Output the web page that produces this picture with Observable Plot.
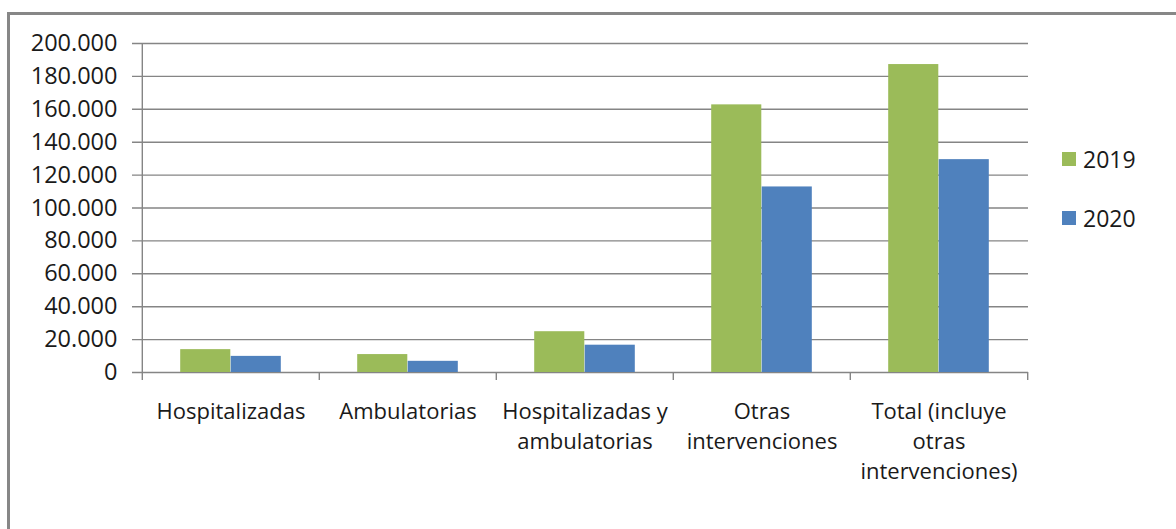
<!DOCTYPE html>
<html><head><meta charset="utf-8">
<script src="https://cdn.jsdelivr.net/npm/d3@7"></script>
<script src="https://cdn.jsdelivr.net/npm/@observablehq/plot@0.6"></script>
<style>
body{margin:0;background:#fff;}
#wrap{position:relative;width:1176px;height:529px;overflow:hidden;background:#fff;font-family:"Open Sans",sans-serif;}
#border{position:absolute;left:7px;top:12px;right:-10px;bottom:-10px;border-left:3px solid #878787;border-top:3px solid #878787;}
#chart{position:absolute;left:0;top:0;}
#legend{position:absolute;left:1062px;top:129px;}
#legend > div{margin:0 !important;font-family:"Open Sans",sans-serif !important;font-size:23px !important;color:#1a1a1a !important;}
#legend > div > div{height:59px;padding:0 !important;}
#legend > div > div > svg{margin-right:7px !important;}
</style></head><body>
<div id="wrap"><div id="border"></div><div id="chart"></div><div id="legend"></div></div>
<script>
const categories = ["Hospitalizadas", "Ambulatorias", "Hospitalizadas y ambulatorias", "Otras intervenciones", "Total (incluye otras intervenciones)"];
const categoryLabels = ["Hospitalizadas", "Ambulatorias", "Hospitalizadas y\nambulatorias", "Otras\nintervenciones", "Total (incluye\notras\nintervenciones)"];
const years = ["2019", "2020"];
const values2019 = [13900, 10900, 24800, 162700, 187200];
const values2020 = [9800, 6800, 16600, 112800, 129400];
const yTicks = [0, 20000, 40000, 60000, 80000, 100000, 120000, 140000, 160000, 180000, 200000];
const colors = ["#9BBB59", "#4F81BD"];

const data = categories.flatMap((c, i) => [
  {category: c, year: years[0], value: values2019[i]},
  {category: c, year: years[1], value: values2020[i]}
]);

const W = 1176, H = 529, mL = 141, mR = 148, mT = 43, mB = 157;
const step = (W - mL - mR) / categories.length;
const barW = 50.5;
const outer = (step - 2 * barW) / 2;
const grey = "#858585";
const fmt = d => d3.format(",")(d).replace(/,/g, ".");
const labelOf = d => categoryLabels[categories.indexOf(d)];

const chart = Plot.plot({
  width: W, height: H,
  marginLeft: mL, marginRight: mR, marginTop: mT, marginBottom: mB,
  style: {fontFamily: "'Open Sans', sans-serif", fontSize: "22px", color: "#1a1a1a", background: "transparent", overflow: "visible"},
  x: {domain: categories, padding: 0, label: null},
  y: {domain: [0, 200000], label: null},
  color: {domain: years, range: colors},
  marks: [
    Plot.ruleY(yTicks, {y: d => d, stroke: grey, strokeWidth: 1.4, insetLeft: -9}),
    Plot.barY(data.filter(d => d.year === years[0]), {x: "category", y: "value", fill: "year", insetLeft: outer, insetRight: outer + barW}),
    Plot.barY(data.filter(d => d.year === years[1]), {x: "category", y: "value", fill: "year", insetLeft: outer + barW, insetRight: outer}),
    Plot.ruleX([categories[0]], {x: d => d, dx: -step / 2, y1: 200000, y2: 0, stroke: grey, strokeWidth: 1.4, insetBottom: -8}),
    Plot.ruleX(categories.slice(1), {x: d => d, dx: -step / 2, y1: 0, y2: 0, stroke: grey, strokeWidth: 1.4, insetBottom: -8}),
    Plot.ruleX([categories[categories.length - 1]], {x: d => d, dx: step / 2, y1: 0, y2: 0, stroke: grey, strokeWidth: 1.4, insetBottom: -8}),
    Plot.axisY(yTicks, {tickSize: 0, tickPadding: 24, tickFormat: fmt, fill: "#1a1a1a", fontSize: 23.5, label: null}),
    Plot.axisX({tickSize: 0, tickPadding: 25, tickFormat: labelOf, lineHeight: 1.36, fill: "#1a1a1a", label: null})
  ]
});
document.getElementById("chart").appendChild(chart);

const legend = Plot.legend({
  color: {domain: years, range: colors},
  legend: "swatches", columns: 1, swatchSize: 14,
  style: {fontFamily: "'Open Sans', sans-serif", fontSize: "23px", color: "#1a1a1a"}
});
document.getElementById("legend").appendChild(legend);
</script>
</body></html>
